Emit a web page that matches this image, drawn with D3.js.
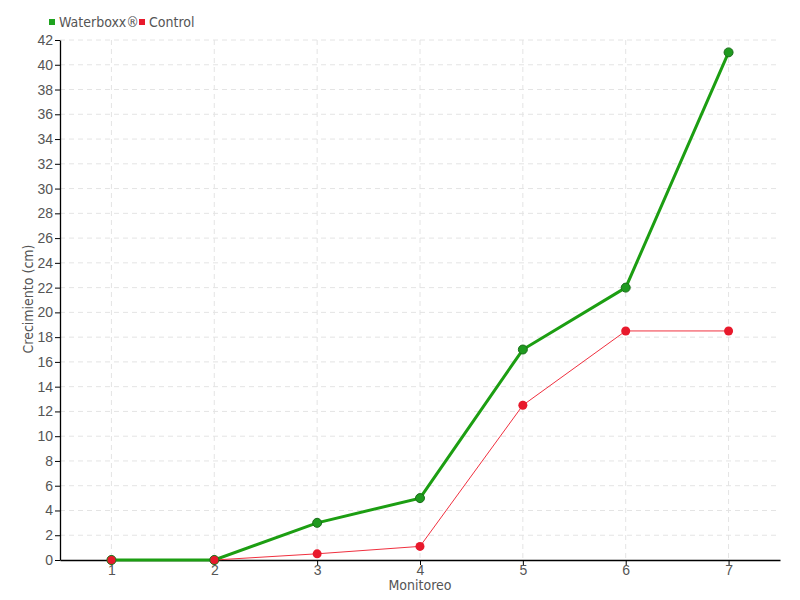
<!DOCTYPE html>
<html>
<head>
<meta charset="utf-8">
<script src="https://cdn.jsdelivr.net/npm/d3@7"></script>
<style>
  body { margin: 0; background: #fff; }
  svg { font-family: "DejaVu Sans Condensed", "Liberation Sans Narrow", sans-serif; font-stretch: condensed; }
</style>
</head>
<body>
<script>
var monitoreo = [1, 2, 3, 4, 5, 6, 7];
var waterboxx = [0, 0, 3, 5, 17, 22, 41];
var control = [0, 0, 0.5, 1.1, 12.5, 18.5, 18.5];
var yTicks = d3.range(0, 43, 2);

var w = 800, h = 600;
var margin = {left: 60, right: 20, top: 40, bottom: 40};

var svg = d3.select('body')
  .append('svg')
  .attr('width', w)
  .attr('height', h);

var xScale = d3.scaleLinear()
  .domain([0.5, 7.5])
  .range([margin.left, w - margin.right]);

var yScale = d3.scaleLinear()
  .domain([0, 42])
  .range([h - margin.bottom, margin.top]);

// grid lines
var grid = svg.append('g').attr('class', 'grid');
grid.selectAll('line.h')
  .data(yTicks.filter(d => d > 0))
  .enter().append('line')
    .attr('x1', margin.left)
    .attr('x2', w - margin.right)
    .attr('y1', d => yScale(d))
    .attr('y2', d => yScale(d))
    .attr('stroke', '#e4e4e4')
    .attr('stroke-dasharray', '5,4');
grid.selectAll('line.v')
  .data(monitoreo)
  .enter().append('line')
    .attr('x1', d => xScale(d))
    .attr('x2', d => xScale(d))
    .attr('y1', margin.top)
    .attr('y2', h - margin.bottom)
    .attr('stroke', '#e4e4e4')
    .attr('stroke-dasharray', '5,4');

var yAxis = d3.axisLeft(yScale)
  .tickValues(yTicks)
  .tickFormat(d3.format('d'))
  .tickSize(5)
  .tickPadding(2)
  .tickSizeOuter(0);

svg.append('g')
  .attr('transform', `translate(${margin.left},0)`)
  .call(yAxis)
  .call(g => g.selectAll('text').attr('fill', '#555').style('font-size', '14px'));

var xAxis = d3.axisBottom(xScale)
  .tickValues(monitoreo)
  .tickFormat(d3.format('d'))
  .tickSize(5)
  .tickPadding(0)
  .tickSizeOuter(0);

svg.append('g')
  .attr('transform', `translate(0,${h - margin.bottom})`)
  .call(xAxis)
  .call(g => g.selectAll('text').attr('fill', '#555').style('font-size', '14px'));

svg.selectAll('.domain').attr('stroke', '#000').attr('stroke-width', 1.3);

// axis titles
svg.append('text')
  .attr('x', (margin.left + w - margin.right) / 2)
  .attr('y', 590)
  .attr('text-anchor', 'middle')
  .attr('fill', '#555')
  .style('font-size', '14px')
  .text('Monitoreo');

svg.append('text')
  .attr('text-anchor', 'middle')
  .attr('transform', 'translate(33,' + 299 + ')rotate(-90)')
  .attr('fill', '#555')
  .style('font-size', '14px')
  .text('Crecimiento (cm)');

var line = d3.line()
  .x((d, i) => xScale(monitoreo[i]))
  .y(d => yScale(d));

// control series
svg.append('path')
  .datum(control)
  .attr('fill', 'none')
  .attr('stroke', '#f0303f')
  .attr('stroke-width', 1)
  .attr('d', line);

// waterboxx series
svg.append('path')
  .datum(waterboxx)
  .attr('fill', 'none')
  .attr('stroke', '#1c9e12')
  .attr('stroke-width', 3)
  .attr('d', line);

svg.selectAll('circle.c')
  .data(control)
  .enter().append('circle')
    .attr('cx', (d, i) => xScale(monitoreo[i]))
    .attr('cy', d => yScale(d))
    .attr('r', 4.5)
    .attr('fill', '#e8192c');

svg.selectAll('circle.w')
  .data(waterboxx)
  .enter().append('circle')
    .attr('cx', (d, i) => xScale(monitoreo[i]))
    .attr('cy', d => yScale(d))
    .attr('r', 4.5)
    .attr('fill', '#1f9a1f')
    .attr('stroke', '#1a6e1a')
    .attr('stroke-width', 1);

// red markers on top at the shared zero points
svg.selectAll('circle.c2')
  .data(control.slice(0, 2))
  .enter().append('circle')
    .attr('cx', (d, i) => xScale(monitoreo[i]))
    .attr('cy', d => yScale(d))
    .attr('r', 4)
    .attr('fill', '#e8192c');

// legend
var legend = svg.append('g').attr('transform', 'translate(49,17)');
var items = [['Waterboxx®', '#1fa31f', 0], ['Control', '#e8192c', 90]];
items.forEach(function (it) {
  legend.append('rect')
    .attr('x', it[2]).attr('y', 2)
    .attr('width', 6).attr('height', 6)
    .attr('fill', it[1]);
  legend.append('text')
    .attr('x', it[2] + 10).attr('y', 10)
    .attr('fill', '#555')
    .style('font-size', '14px')
    .text(it[0]);
});
</script>
</body>
</html>
